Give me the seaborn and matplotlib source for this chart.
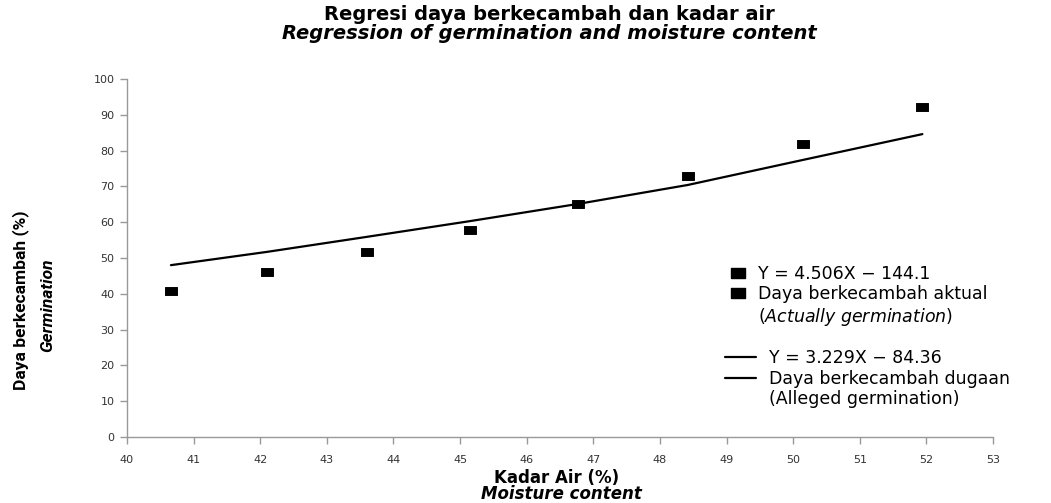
import numpy as np
import pandas as pd
import seaborn as sns
import matplotlib.pyplot as plt
from matplotlib.lines import Line2D

kadar_air = [40.66, 42.10, 43.60, 45.15, 46.77, 48.42, 50.15, 51.94]
daya_aktual = [40.8, 46.1, 51.7, 57.8, 65.1, 72.9, 81.8, 92.2]
daya_dugaan = [48.0, 51.7, 55.9, 60.3, 65.1, 70.4, 77.4, 84.6]

x_ticks = list(range(40, 54))
y_ticks = list(range(0, 101, 10))

df = pd.DataFrame({'x': kadar_air, 'aktual': daya_aktual, 'dugaan': daya_dugaan})

sns.set_theme(style='white')
plt.rcParams['font.family'] = ['DejaVu Sans']
plt.rcParams['text.color'] = 'black'

# flat rectangle marker like the original
rect = [(-1.4, -1), (1.4, -1), (1.4, 1), (-1.4, 1), (-1.4, -1)]

fig = plt.figure(figsize=(10.51, 5.03), dpi=100)
ax = fig.add_axes([0.1208, 0.1312, 0.824, 0.7118])

sns.lineplot(data=df, x='x', y='dugaan', ax=ax, color='black', lw=1.6)
sns.scatterplot(data=df, x='x', y='aktual', ax=ax, color='black', marker=rect,
                s=70, edgecolor='black', zorder=3)

ax.set_xlim(40, 53)
ax.set_ylim(0, 100)
ax.set_xticks(x_ticks)
ax.set_yticks(y_ticks)
ax.set_xlabel('')
ax.set_ylabel('')
for s in ['top', 'right']:
    ax.spines[s].set_visible(False)
for s in ['left', 'bottom']:
    ax.spines[s].set_color('#999999')
    ax.spines[s].set_linewidth(1)
ax.tick_params(axis='both', which='both', direction='out', length=5, width=1,
               color='#999999', labelsize=8, labelcolor='#333333', pad=4,
               left=True, bottom=True)
ax.tick_params(axis='x', pad=8)

# legends (blank handle for the wrapped second line)
sq = Line2D([], [], color='black', marker=rect, ls='none', markersize=10)
ln = Line2D([], [], color='black', lw=1.6)
blank = Line2D([], [], color='none', ls='none')
leg1 = ax.legend([sq, sq, blank], ['Y = 4.506X \u2212 144.1',
                                   'Daya berkecambah aktual',
                                   '($\\it{Actually\\ germination}$)'],
                 loc='upper left', bbox_to_anchor=(0.686, 0.505), frameon=False,
                 borderpad=0, fontsize=12.5, handlelength=1.0, handletextpad=0.6,
                 labelspacing=0.15)
ax.add_artist(leg1)
ax.legend([ln, ln, blank], ['Y = 3.229X \u2212 84.36',
                            'Daya berkecambah dugaan',
                            '(Alleged germination)'],
          loc='upper left', bbox_to_anchor=(0.681, 0.27), frameon=False,
          borderpad=0, fontsize=12.5, handlelength=1.75, handletextpad=0.75,
          labelspacing=0.15)

# titles and axis labels
fig.text(0.523, 0.971, 'Regresi daya berkecambah dan kadar air', ha='center', va='center',
         fontsize=14, fontweight='bold')
fig.text(0.523, 0.934, 'Regression of germination and moisture content', ha='center',
         va='center', fontsize=14, fontweight='bold', style='italic')
fig.text(0.530, 0.040, 'Kadar Air (%)', ha='center', va='baseline', fontsize=12,
         fontweight='bold')
fig.text(0.534, 0.007, 'Moisture content', ha='center', va='baseline', fontsize=12,
         fontweight='bold', style='italic')
fig.text(0.020, 0.404, 'Daya berkecambah (%)', ha='center', va='center', rotation=90,
         fontsize=12.5, fontweight='bold', family=['Roboto', 'DejaVu Sans'])
fig.text(0.045, 0.393, 'Germination', ha='center', va='center', rotation=90,
         fontsize=12.5, fontweight='bold', style='italic',
         family=['Roboto', 'DejaVu Sans'])

fig.savefig('out.png', dpi=100)
